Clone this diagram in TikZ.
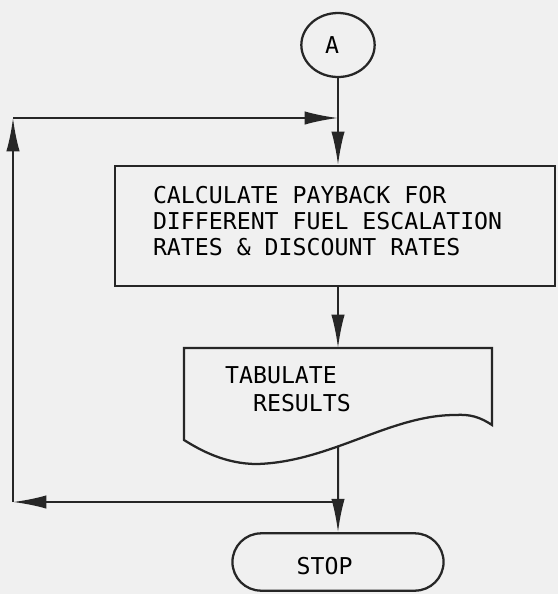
\documentclass[tikz,border=0pt]{standalone}
\usepackage{fontspec}
\setmonofont{DejaVu Sans Mono}
\usetikzlibrary{arrows.meta,positioning,shapes.geometric,shapes.misc,backgrounds}
\newcommand{\chartfont}{\ttfamily\fontsize{17.4}{19.5}\selectfont}
\newcommand{\wsp}{\hphantom{X}}% one full typewriter cell
\tikzset{
  chartline/.style={draw=black!85,line width=1.7pt},
  flow/.style={-{Latex[length=25pt,width=10pt]},line width=1.5pt,
    draw=black!85}}

\begin{document}
\begin{tikzpicture}[x=0.75pt,y=-0.75pt,
  font=\chartfont,
  connector/.style={ellipse,chartline,minimum width=55pt,
    minimum height=48pt,text width=19.5pt,align=left,inner sep=0pt},
  procbox/.style={rectangle,chartline,minimum width=330pt,
    minimum height=90pt,text width=273pt,align=left,inner sep=0pt,
    text depth=46.5pt},
  doctext/.style={align=left,inner sep=0pt,
    font=\ttfamily\fontsize{17.4}{21}\selectfont},
  terminator/.style={rounded rectangle,chartline,minimum width=165pt,
    minimum height=43pt,text width=62pt,align=left,text height=18.5pt}]

  \fill[black!6] (0,0) rectangle (558,594);
  \useasboundingbox (0,0) rectangle (558,594);

  \node[connector] (A) at (338,45) {A};
  \node[procbox] (calc) at (335,226)
    {CALCULATE\wsp PAYBACK\wsp FOR\\
     DIFFERENT\wsp FUEL\wsp ESCALATION\\
     RATES\wsp\&\wsp DISCOUNT\wsp RATES};
  \node[doctext] (tab) at (288,389) {TABULATE\\\wsp\wsp RESULTS};
  \node[terminator] (stop) at (338,562) {STOP};

  \coordinate (doctop) at (338,348);
  \coordinate (docbot) at (338,447);
  \coordinate (loopbot) at (338,502);
  \coordinate (bl) at (13,502);
  \coordinate (tl) at (13,118);
  \coordinate (loopin) at (338,118);

  % document symbol round the text
  \draw[chartline] (184,348) -- (492,348) -- (492,425)
    .. controls (480,417) and (470,414) .. (455,415)
    .. controls (390,415) and (330,462) .. (257,464)
    .. controls (225,464) and (200,450) .. (184,440) -- cycle;

  \draw[flow] (A) -- (A |- calc.north);
  \draw[flow] (calc.south -| doctop) -- (doctop);
  \draw[flow] (docbot) -- (stop);
  % loop back
  \draw[flow] (loopbot) -- (bl);
  \draw[flow] (bl) -- (tl);
  \draw[flow] (tl) -- (loopin);
\end{tikzpicture}
\end{document}
